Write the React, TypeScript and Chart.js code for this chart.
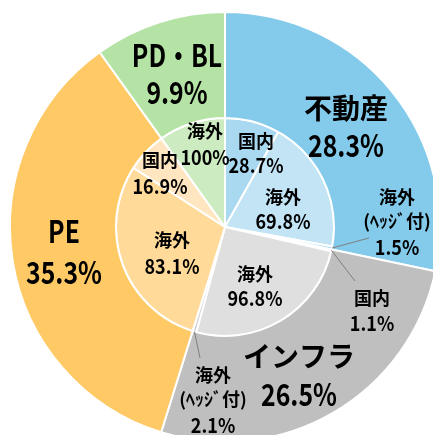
import { useEffect, useRef } from "react";
import { Chart, registerables } from "chart.js";

Chart.register(...registerables);

// ---- data ----
const categories = ["不動産", "インフラ", "PE", "PD・BL"];
const categoryShares = [28.3, 26.5, 35.3, 9.9];
const subLabels = [
  ["国内", "海外", "海外\n(ﾍｯｼﾞ付)"],
  ["国内", "海外", "海外\n(ﾍｯｼﾞ付)"],
  ["海外", "国内"],
  ["海外"],
];
const subShares = [
  [28.7, 69.8, 1.5],
  [1.1, 96.8, 2.1],
  [83.1, 16.9],
  [100],
];

// ---- styles ----
const outerColors = ["#83CAEB", "#BFBFBF", "#FFCA66", "#B5E3A5"];
const innerColors = [
  ["#A9D9F1", "#C2E4F5", "#9ED3EE"],
  ["#D2D2D2", "#DFDFDF", "#D2D2D2"],
  ["#FFDA99", "#FFE6C1"],
  ["#CDEBC1"],
];
// label anchors relative to chart centre: [dx, dy, lineGap]
const outerLabelPos = [
  [121, -101, 36],
  [74, 147.5, 37],
  [-161, 23.5, 41],
  [-48, -154.5, 37],
];
const innerLabelPos = [
  [[31, -74.5, 23], [58, -18.5, 23], [172, -5.5, 24.5]],
  [[147, 83, 24], [30, 58.5, 23], [-12, 172.5, 24.5]],
  [[-53, 25.5, 25], [-65, -54.5, 25]],
  [[-20, -83.5, 25]],
];
// leader line end points relative to centre (null = none)
const innerLeaders = [
  [null, null, [144, 11]],
  [[130, 54], null, [-25, 131]],
  [null, null],
  [null],
];

const fmt = (v: number) => (Number.isInteger(v) ? `${v}%` : `${v.toFixed(1)}%`);

const FONT = "'Noto Sans CJK JP', 'Noto Sans', sans-serif";
const hasCJK = (t: string) => /[\u3040-\u30ff\u4e00-\u9fff\uff66-\uff9f]/.test(t);

export default function App() {
  const ref = useRef<HTMLCanvasElement | null>(null);

  useEffect(() => {
    if (!ref.current) return;
    const innerData: number[] = [];
    const innerBg: string[] = [];
    const innerText: string[] = [];
    const innerPos: number[][] = [];
    const innerLead: (number[] | null)[] = [];
    categoryShares.forEach((s, i) => {
      subShares[i].forEach((p, j) => {
        innerData.push((s * p) / 100);
        innerBg.push(innerColors[i][j]);
        innerText.push(subLabels[i][j] + "\n" + fmt(p));
        innerPos.push(innerLabelPos[i][j]);
        innerLead.push(innerLeaders[i][j]);
      });
    });

    const labelPlugin = {
      id: "labels",
      afterDraw(chart: any) {
        const ctx = chart.ctx as CanvasRenderingContext2D;
        const outerMeta = chart.getDatasetMeta(0);
        const innerMeta = chart.getDatasetMeta(1);
        const cx = outerMeta.data[0].x;
        const cy = outerMeta.data[0].y;
        ctx.save();
        ctx.textAlign = "center";
        ctx.textBaseline = "middle";
        ctx.fillStyle = "#000";

        // leader lines
        ctx.strokeStyle = "#7F7F7F";
        ctx.lineWidth = 1;
        innerMeta.data.forEach((arc: any, k: number) => {
          const end = innerLead[k];
          if (!end) return;
          const mid = (arc.startAngle + arc.endAngle) / 2;
          const r = arc.outerRadius;
          ctx.beginPath();
          ctx.moveTo(arc.x + Math.cos(mid) * r, arc.y + Math.sin(mid) * r);
          ctx.lineTo(cx + end[0], cy + end[1]);
          ctx.stroke();
        });

        const drawText = (t: string, x: number, y: number, font: string, sx: number) => {
          ctx.save();
          ctx.translate(x, y);
          ctx.scale(sx, 1);
          ctx.font = font;
          ctx.fillText(t, 0, 0);
          ctx.restore();
        };

        categories.forEach((c, i) => {
          const [dx, dy, gap] = outerLabelPos[i];
          const lines = [c, fmt(categoryShares[i])];
          lines.forEach((t, li) => {
            const y = cy + dy + (li - 0.5) * gap;
            if (hasCJK(t) && t !== "PD・BL") drawText(t, cx + dx, y, `bold 28px ${FONT}`, 1);
            else drawText(t, cx + dx, y + 1, `bold 31px ${FONT}`, 0.8);
          });
        });
        innerText.forEach((t, k) => {
          const [dx, dy, gap] = innerPos[k];
          const lines = t.split("\n");
          const n = lines.length;
          lines.forEach((s, li) => {
            const y = cy + dy + (li - (n - 1) / 2) * gap;
            if (hasCJK(s)) drawText(s, cx + dx, y, `bold 18px ${FONT}`, 1);
            else drawText(s, cx + dx, y + 1, `bold 20px ${FONT}`, 0.9);
          });
        });
        ctx.restore();
      },
    };

    const chart = new Chart(ref.current, {
      type: "doughnut",
      data: {
        labels: categories,
        datasets: [
          {
            data: categoryShares,
            backgroundColor: outerColors,
            borderColor: "#FFFFFF",
            borderWidth: 2,
            weight: 106,
          } as any,
          {
            data: innerData,
            backgroundColor: innerBg,
            borderColor: "#FFFFFF",
            borderWidth: 2,
            weight: 109,
          } as any,
        ],
      },
      options: {
        animation: false,
        responsive: false,
        maintainAspectRatio: false,
        devicePixelRatio: 1,
        cutout: 0,
        radius: 215,
        hoverOffset: 0,
        layout: { padding: 0 },
        plugins: {
          legend: { display: false },
          tooltip: { enabled: false },
        },
        events: [],
      } as any,
      plugins: [labelPlugin],
    });
    return () => chart.destroy();
  }, []);

  return (
    <div style={{ position: "fixed", left: 0, top: 0, width: 433, height: 435, overflow: "hidden", background: "#fff" }}>
      <canvas ref={ref} width={434} height={438} style={{ position: "absolute", left: 8, top: 8 }} />
    </div>
  );
}
